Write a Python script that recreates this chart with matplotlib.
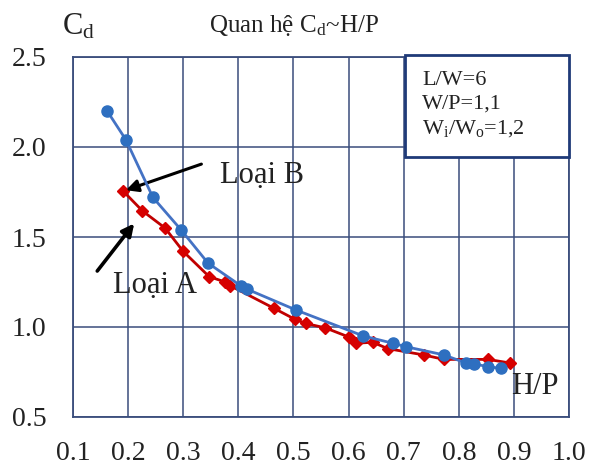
import numpy as np
import matplotlib
matplotlib.use("Agg")
import matplotlib.pyplot as plt
from matplotlib.patches import Rectangle

plt.rcParams['font.family'] = ['Liberation Serif', 'DejaVu Serif']
plt.rcParams['mathtext.fontset'] = 'custom'
plt.rcParams['mathtext.rm'] = 'Liberation Serif'
plt.rcParams['mathtext.it'] = 'Liberation Serif:italic'

# Loai B (blue circles)
hp_b = [0.162, 0.196, 0.245, 0.296, 0.345, 0.404, 0.416, 0.505, 0.627, 0.68, 0.705, 0.773, 0.813, 0.827, 0.853, 0.876]
cd_b = [2.20, 2.04, 1.72, 1.54, 1.355, 1.23, 1.21, 1.094, 0.95, 0.91, 0.89, 0.845, 0.80, 0.795, 0.78, 0.77]

# Loai A (red diamonds)
hp_a = [0.191, 0.226, 0.267, 0.30, 0.347, 0.376, 0.385, 0.464, 0.502, 0.522, 0.558, 0.60, 0.613, 0.644, 0.671, 0.736, 0.773, 0.853, 0.893]
cd_a = [1.755, 1.645, 1.55, 1.42, 1.28, 1.25, 1.23, 1.105, 1.044, 1.02, 0.995, 0.945, 0.91, 0.915, 0.88, 0.845, 0.82, 0.82, 0.80]

xticks = [0.1, 0.2, 0.3, 0.4, 0.5, 0.6, 0.7, 0.8, 0.9, 1.0]
yticks = [0.5, 1.0, 1.5, 2.0, 2.5]

grid_col = '#3a4d7c'
txt_col = '#222222'

fig = plt.figure(figsize=(5.9, 4.68), dpi=100)
ax = fig.add_axes([73/590, 1-417/468, 496/590, 360/468])

ax.plot(hp_a, cd_a, '-', color='#c00000', lw=2, marker='D', ms=6,
        mfc='#d60000', mec='#d60000', zorder=3)
ax.plot(hp_b, cd_b, '-', color='#4472c4', lw=2, marker='o', ms=8,
        mfc='#2e6fc0', mec='#2e6fc0', zorder=4)

ax.set_xlim(0.1, 1.0)
ax.set_ylim(0.5, 2.5)
ax.set_xticks(xticks)
ax.set_yticks(yticks)
ax.set_xticklabels(['%.1f' % v for v in xticks])
ax.set_yticklabels(['%.1f' % v for v in yticks])
ax.tick_params(length=0, labelsize=20, colors=txt_col)
ax.tick_params(axis='y', pad=19)
ax.tick_params(axis='x', pad=17)
ax.grid(True, color=grid_col, lw=1.1)
ax.set_axisbelow(True)
for s in ax.spines.values():
    s.set_color(grid_col)
    s.set_linewidth(1.3)

# info box
box = Rectangle((332/496, 260/360), 164/496, 102/360, transform=ax.transAxes,
                fc='white', ec='#1f3a78', lw=2, zorder=5, clip_on=False)
ax.add_patch(box)
ax.text(349/496, 346/360, 'L/W=6\nW/P=1,1\nW$_\\mathrm{i}$/W$_\\mathrm{o}$=1,2',
        transform=ax.transAxes, fontsize=16, va='top', ha='left',
        linespacing=1.3, color=txt_col, zorder=6)

ax.annotate('', xy=(0.196, 1.76), xytext=(0.333, 1.905),
            arrowprops=dict(arrowstyle='-|>', color='black', lw=2.2, mutation_scale=18,
                            shrinkA=0, shrinkB=0))
ax.annotate('', xy=(0.211, 1.575), xytext=(0.144, 1.311),
            arrowprops=dict(arrowstyle='-|>', color='black', lw=2.6, mutation_scale=18,
                            shrinkA=0, shrinkB=0))
ax.text(0.367, 1.844, 'Loại B', fontsize=22, va='center', ha='left', color=txt_col)
ax.text(0.173, 1.233, 'Loại A', fontsize=22, va='center', ha='left', color=txt_col)
ax.text(0.895, 0.667, 'H/P', fontsize=22, va='center', ha='left', color=txt_col)

fig.text(62/590, 1-27/468, 'C$_\\mathrm{d}$', fontsize=22, ha='left', va='center', color=txt_col)
fig.text(294/590, 1-25/468, 'Quan hệ C$_\\mathrm{d}$~H/P', fontsize=18, ha='center', va='center',
         color=txt_col)

fig.savefig('out.png', dpi=100)
